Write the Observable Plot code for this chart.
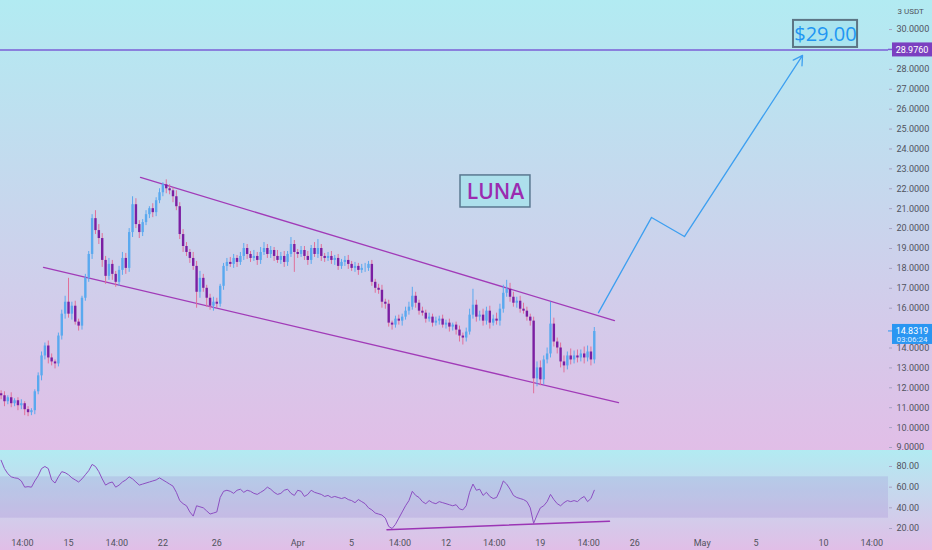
<!DOCTYPE html>
<html><head><meta charset="utf-8">
<script src="https://cdn.jsdelivr.net/npm/d3@7"></script>
<script src="https://cdn.jsdelivr.net/npm/@observablehq/plot@0.6"></script>
<style>
body{margin:0;padding:0;background:#fff;}
#chart{width:932px;height:550px;overflow:hidden;}
#chart svg{display:block;}
</style></head><body><div id="chart"></div>
<script>
// ---------- data ----------
const startTime = "2021-03-10T00:00Z";   // first 6h candle
const stepHours = 6;
const firstOpen = 11.7;
const closes = [
 11.6,11.3,11.5,11.2,11.35,11.1,11.2,10.9,10.75,10.85,
 11.8,12.6,13.6,14.1,13.5,13.3,13.2,14.6,15.7,16.3,
 15.7,16.1,15.3,15.1,16.5,17.5,18.7,20.5,19.9,19.5,
 18.4,17.6,18.2,17.7,17.3,17.9,18.5,18.0,19.8,21.2,
 20.2,19.8,20.3,20.7,21.0,20.8,21.4,21.8,22.2,22.0,
 21.9,21.6,21.1,19.7,19.1,18.8,18.5,18.1,16.8,17.5,
 17.0,16.5,16.1,16.3,16.2,17.1,18.1,18.3,18.2,18.5,
 18.3,18.6,19.0,18.7,18.5,18.6,18.4,18.8,19.0,18.7,
 18.9,18.6,18.4,18.6,18.3,18.7,19.2,18.8,18.7,18.9,
 18.6,18.4,19.0,18.7,19.0,18.6,18.5,18.6,18.4,18.5,
 18.1,18.3,18.4,18.2,18.0,18.1,17.9,18.0,18.0,18.2,
 17.3,17.0,16.9,16.3,16.2,15.25,15.15,15.45,15.35,15.55,
 15.85,16.05,16.6,16.25,15.85,15.75,15.45,15.55,15.25,15.35,
 15.45,15.15,15.25,15.05,15.15,14.9,14.6,14.5,14.8,15.65,
 16.15,15.55,15.65,15.35,15.85,15.25,15.45,15.35,15.95,16.75,
 16.95,16.55,16.25,16.35,15.95,15.85,15.55,15.35,12.45,13.0,
 12.4,13.4,13.7,15.2,14.3,14.0,13.3,13.1,13.6,13.4,
 13.6,13.5,13.7,13.5,13.8,13.4,14.83
];
const wickUp = [
 .15,.2,.1,.25,.1,.15,.2,.1,.15,.1,
 .1,.15,.2,.15,.25,.2,.1,.15,.2,.3,
 1.2,.2,.25,.15,.1,.2,.15,.2,.4,.3,
 .25,.2,.3,.2,.15,.2,.3,.25,.2,.4,
 .3,.2,.15,.2,.1,.25,.15,.2,.1,.25,
 .2,.15,.3,.2,.25,.2,.15,.3,.25,.35,
 .2,.15,.2,.25,.2,.1,.15,.2,.25,.2,
 .15,.2,.25,.2,.15,.3,.2,.25,.3,.2,
 .2,.15,.3,.2,.25,.15,.35,.2,.15,.2,
 .2,.25,.15,.3,.45,.2,.15,.2,.25,.15,
 .2,.15,.2,.25,.15,.2,.15,.2,.25,.15,
 .2,.15,.2,.25,.15,.2,.1,.15,.2,.15,
 .2,.25,.45,.2,.15,.2,.15,.2,.15,.2,
 .15,.2,.15,.2,.1,.15,.2,.15,.2,.3,
 .8,.25,.2,.3,.2,.25,.2,.3,.25,.4,
 .45,.3,.25,.2,.25,.3,.2,.15,.2,.3,
 .35,.2,.3,1.1,.3,.2,.25,.3,.2,.35,
 .25,.3,.2,.35,.3,.25,.2
];
const wickDn = [
 .2,.25,.15,.2,.15,.25,.2,.3,.2,.15,
 .2,.15,.25,.2,.3,.2,.25,.15,.2,.25,
 .2,.3,.15,.25,.2,.15,.2,.25,.2,.3,
 .35,.4,.2,.3,.25,.2,.25,.3,.2,.25,
 .2,.3,.2,.15,.2,.25,.2,.15,.2,.25,
 .2,.3,.2,.25,.3,.2,.25,.2,.8,.3,
 .2,.45,.2,.25,.2,.15,.2,.25,.15,.2,
 .25,.15,.2,.25,.2,.15,.25,.2,.15,.2,
 .2,.25,.15,.2,.25,.2,.15,1.0,.2,.15,
 .2,.25,.2,.15,.2,.25,.2,.15,.2,.25,
 .2,.15,.2,.25,.15,.2,.25,.15,.2,.15,
 .2,.25,.2,.3,.25,.2,.25,.15,.2,.25,
 .15,.2,.15,.25,.2,.15,.2,.15,.2,.15,
 .2,.15,.2,.25,.2,.25,.3,.35,.2,.15,
 .2,.25,.2,.25,.2,.3,.15,.2,.25,.2,
 .2,.25,.2,.25,.2,.15,.2,.25,.75,.4,
 .3,.25,.2,.2,.25,.3,.3,.35,.2,.25,
 .2,.25,.2,.3,.2,.3,.2
];
const rsi = [
 86,78,73,70,69,68.5,66,60,60.5,60,
 66,71,78,80,78,67,64,70,75,74,
 72,69,67,65,68,72,76,82,80,75,
 68,62,64,65,60,62,65,67,70,68,
 65,62,63,64,65,66,67,69,67,65,
 63,61,55,47,44,42,36,32,42,41,
 40,37,34,35,36,50,56,57,56,54,
 57,58,55,57,56,54,53,55,57,60,
 58,55,53,54,57,58,54,52,57,56,
 51,53,57,55,54,53,51,52,50,51,
 50,49,50,48,47,45,48,46,44,40,
 38,35,34,33,30,22,20,24,30,36,
 42,47,56,52,50,46,44,47,45,44,
 46,45,44,43,42,43,39,38,42,55,
 63,57,58,52,55,51,49,50,57,66,
 63,58,52,50,49,48,46,40,25,33,
 40,42,46,53,48,44,42,45,47,46,
 47,46,49,51,46,49,57
];
const lastPrice = 14.8319;
const countdown = "03:06:24";
const resistance = 28.976;
// 15 and 29 sit under the price labels and are hidden in the reference
const priceTicks = [9,10,11,12,13,14,16,17,18,19,20,21,22,23,24,25,26,27,28,30];
const rsiTicks = [20,40,60,80];
const rsiBand = [{lo:30, hi:70}];
const timeTicks = ["2021-03-11T14:00Z","2021-03-15T00:00Z","2021-03-18T14:00Z","2021-03-22T00:00Z","2021-03-26T00:00Z","2021-04-01T00:00Z","2021-04-05T00:00Z","2021-04-08T14:00Z","2021-04-12T00:00Z","2021-04-15T14:00Z","2021-04-19T00:00Z","2021-04-22T14:00Z","2021-04-26T00:00Z","2021-05-01T00:00Z","2021-05-05T00:00Z","2021-05-10T00:00Z","2021-05-13T14:00Z"];
const timeLabels = ["14:00","15","14:00","22","26","Apr","5","14:00","12","14:00","19","14:00","26","May","5","10","14:00"];
const xDomain = ["2021-03-09T22:56Z","2021-05-14T19:43Z"];
const channelUpper = [{date:"2021-03-20T08:09Z", price:22.57},{date:"2021-04-24T11:54Z", price:15.38}];
const channelLower = [{date:"2021-03-13T03:30Z", price:18.05},{date:"2021-04-24T19:05Z", price:11.26}];
const projection = [{date:"2021-04-23T07:27Z", price:15.78},{date:"2021-04-27T05:54Z", price:20.56},{date:"2021-04-29T16:28Z", price:19.6}];
const projectionArrow = [{from:"2021-04-29T16:28Z", p1:19.6, to:"2021-05-08T10:42Z", p2:28.7}];
const rsiTrend = [{date:"2021-04-07T14:56Z", value:18.8},{date:"2021-04-24T03:00Z", value:27.1}];
const lunaBox = [{x1:"2021-04-13T01:50Z", x2:"2021-04-18T06:20Z", y1:21.06, y2:22.67}];
const lunaLabel = [{date:"2021-04-15T16:10Z", price:21.84, text:"LUNA"}];
const targetBox = [{x1:"2021-05-07T18:35Z", x2:"2021-05-12T12:38Z", y1:29.1, y2:30.46}];
const targetLabel = [{date:"2021-05-10T03:30Z", price:29.76, text:"$29.00"}];

// ---------- build ----------
const D = s => new Date(s);
const t0 = D(startTime).getTime();
const candles = closes.map((c, i) => {
  const o = i ? closes[i - 1] : firstOpen;
  return {date: new Date(t0 + i * stepHours * 3600e3), open: o, close: c,
    high: Math.max(o, c) + wickUp[i], low: Math.min(o, c) - wickDn[i], up: c >= o};
});
const upC = candles.filter(d => d.up), dnC = candles.filter(d => !d.up);
const rsiData = rsi.map((v, i) => ({date: new Date(t0 + i * stepHours * 3600e3), value: v}));
const dom = xDomain.map(D);
const tickDates = timeTicks.map(D);
const labelMap = new Map(tickDates.map((d, i) => [+d, timeLabels[i]]));
const conv = arr => arr.map(d => Object.fromEntries(Object.entries(d).map(([k, v]) => [k, typeof v === "string" && /^\d{4}-/.test(v) ? D(v) : v])));

const W = 932, MR = 44;
const bg = "linear-gradient(#b2ebf2, #e1bee7)";
const font = "Roboto, 'Liberation Sans', sans-serif";

function priceBoxes(index, scales, values, dims) {
  const g = d3.create("svg:g").attr("font-family", font).attr("font-size", 9);
  const x0 = dims.width - dims.marginRight;
  const yr = scales.y(resistance);
  g.append("rect").attr("x", x0 + 4).attr("y", yr - 7).attr("width", 40).attr("height", 14).attr("fill", "#7b3fc0");
  g.append("line").attr("x1", x0).attr("x2", x0 + 4).attr("y1", yr).attr("y2", yr).attr("stroke", "#7b5ed6").attr("stroke-width", 1.5);
  g.append("text").attr("x", x0 + 24).attr("y", yr).attr("dy", "0.35em").attr("text-anchor", "middle").attr("fill", "#fff").text(resistance.toFixed(4));
  const yp = scales.y(lastPrice);
  g.append("rect").attr("x", x0 + 4).attr("y", yp - 7).attr("width", 40).attr("height", 20).attr("fill", "#2a96f2");
  g.append("line").attr("x1", x0).attr("x2", x0 + 4).attr("y1", yp).attr("y2", yp).attr("stroke", "#2a96f2").attr("stroke-width", 1);
  g.append("text").attr("x", x0 + 24).attr("y", yp).attr("dy", "0.35em").attr("text-anchor", "middle").attr("fill", "#fff").text(lastPrice.toFixed(4));
  g.append("text").attr("x", x0 + 24).attr("y", yp + 8.5).attr("dy", "0.35em").attr("text-anchor", "middle").attr("font-size", 8).attr("fill", "#dcecff").text(countdown);
  return g.node();
}

const pricePlot = Plot.plot({
  width: W, height: 450, marginLeft: 0, marginRight: MR, marginTop: 0, marginBottom: 0,
  style: {background: bg, fontFamily: font, fontSize: "9px", color: "#50535e", overflow: "visible"},
  x: {type: "utc", domain: dom, axis: null},
  y: {domain: [8.85, 31.46], axis: null},
  marks: [
    Plot.ruleY([resistance], {stroke: "#7b5ed6", strokeWidth: 1.5}),
    Plot.line(conv(channelUpper), {x: "date", y: "price", stroke: "#a13bb8", strokeWidth: 1.3}),
    Plot.line(conv(channelLower), {x: "date", y: "price", stroke: "#a13bb8", strokeWidth: 1.3}),
    Plot.ruleX(upC, {x: "date", y1: "low", y2: "high", stroke: "#5aa9ef", strokeWidth: 1}),
    Plot.ruleX(dnC, {x: "date", y1: "low", y2: "high", stroke: "#e0709a", strokeWidth: 1}),
    Plot.ruleX(upC, {x: "date", y1: "open", y2: "close", stroke: "#5aa9ef", strokeWidth: 2.4}),
    Plot.ruleX(dnC, {x: "date", y1: "open", y2: "close", stroke: "#7b1fa2", strokeWidth: 2.4}),
    Plot.line(conv(projection), {x: "date", y: "price", stroke: "#3d9ff0", strokeWidth: 1.3}),
    Plot.arrow(conv(projectionArrow), {x1: "from", y1: "p1", x2: "to", y2: "p2", stroke: "#3d9ff0", strokeWidth: 1.3, headLength: 12}),
    Plot.rect(conv(lunaBox), {x1: "x1", x2: "x2", y1: "y1", y2: "y2", fill: "#ade0ec", stroke: "#5a7890", strokeWidth: 1.5}),
    Plot.text(conv(lunaLabel), {x: "date", y: "price", text: "text", fill: "#9b2bb0", fontSize: 21, fontWeight: 600, fontFamily: "'Open Sans', sans-serif"}),
    Plot.rect(conv(targetBox), {x1: "x1", x2: "x2", y1: "y1", y2: "y2", fill: "#a9e4ef", stroke: "#5d7585", strokeWidth: 2}),
    Plot.text(conv(targetLabel), {x: "date", y: "price", text: "text", fill: "#2196f3", fontSize: 20, fontFamily: "'Open Sans', sans-serif"}),
    Plot.axisY({ticks: priceTicks, anchor: "right", tickFormat: d => d.toFixed(4), tickSize: 3, tickPadding: 5, stroke: "#a9a3c4"}),
    Plot.text(["3 USDT"], {frameAnchor: "top-right", dx: 9, dy: 8, textAnchor: "start", fill: "#50535e", fontSize: 8}),
    priceBoxes
  ]
});

const rsiPlot = Plot.plot({
  width: W, height: 100, marginLeft: 0, marginRight: MR, marginTop: 0, marginBottom: 18,
  style: {background: bg, fontFamily: font, fontSize: "9px", color: "#50535e", overflow: "visible"},
  x: {type: "utc", domain: dom},
  y: {domain: [16.13, 95.48], axis: null},
  marks: [
    Plot.rect(rsiBand, {y1: "lo", y2: "hi", fill: "#7e57c2", fillOpacity: 0.15}),
    Plot.line(rsiData, {x: "date", y: "value", stroke: "#8c4fc2", strokeWidth: 1}),
    Plot.line(conv(rsiTrend), {x: "date", y: "value", stroke: "#9b35b5", strokeWidth: 1.5}),
    Plot.axisY({ticks: rsiTicks, anchor: "right", tickFormat: d => d.toFixed(2), tickSize: 3, tickPadding: 5, stroke: "#a9a3c4"}),
    Plot.axisX({ticks: tickDates, tickFormat: d => labelMap.get(+d), tickSize: 0, tickPadding: 7, anchor: "bottom"})
  ]
});

const root = document.getElementById("chart");
root.append(pricePlot, rsiPlot);
</script></body></html>
